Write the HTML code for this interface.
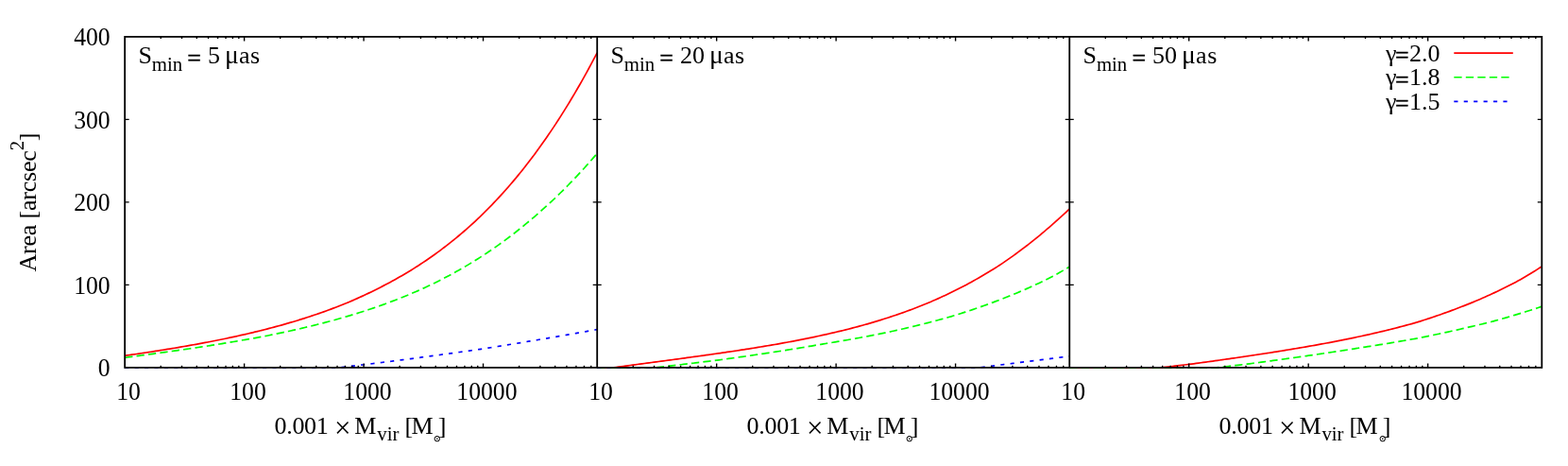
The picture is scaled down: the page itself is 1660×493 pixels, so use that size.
<!DOCTYPE html>
<html><head><meta charset="utf-8"><title>Area vs Mvir</title>
<style>
html,body{margin:0;padding:0;background:#fff;}
svg{display:block;}
text{font-family:"Liberation Serif",serif;fill:#000;}
</style></head><body>
<svg width="1660" height="493" viewBox="0 0 1660 493">
<rect width="1660" height="493" fill="#fff"/>
<g fill="none" stroke-width="1.70" stroke-linejoin="round">
<path d="M132.15,376.28 L134.66,375.92 L137.16,375.56 L139.67,375.20 L142.18,374.84 L144.68,374.47 L147.19,374.11 L149.70,373.74 L152.20,373.36 L154.71,372.99 L157.22,372.61 L159.72,372.23 L162.23,371.84 L164.73,371.45 L167.24,371.06 L169.75,370.67 L172.25,370.27 L174.76,369.87 L177.27,369.46 L179.77,369.05 L182.28,368.64 L184.79,368.23 L187.29,367.81 L189.80,367.38 L192.31,366.96 L194.81,366.53 L197.32,366.09 L199.83,365.65 L202.33,365.21 L204.84,364.76 L207.35,364.30 L209.85,363.85 L212.36,363.38 L214.87,362.92 L217.37,362.44 L219.88,361.97 L222.38,361.48 L224.89,361.00 L227.40,360.50 L229.90,360.01 L232.41,359.50 L234.92,358.99 L237.42,358.48 L239.93,357.96 L242.44,357.43 L244.94,356.90 L247.45,356.36 L249.96,355.81 L252.46,355.26 L254.97,354.70 L257.48,354.14 L259.98,353.56 L262.49,352.98 L265.00,352.40 L267.50,351.80 L270.01,351.20 L272.51,350.59 L275.02,349.98 L277.53,349.35 L280.03,348.72 L282.54,348.08 L285.05,347.44 L287.55,346.78 L290.06,346.11 L292.57,345.44 L295.07,344.75 L297.58,344.06 L300.09,343.36 L302.59,342.65 L305.10,341.93 L307.61,341.19 L310.11,340.45 L312.62,339.70 L315.13,338.94 L317.63,338.17 L320.14,337.39 L322.65,336.59 L325.15,335.79 L327.66,334.97 L330.16,334.15 L332.67,333.31 L335.18,332.46 L337.68,331.59 L340.19,330.72 L342.70,329.83 L345.20,328.93 L347.71,328.02 L350.22,327.09 L352.72,326.15 L355.23,325.20 L357.74,324.23 L360.24,323.25 L362.75,322.26 L365.26,321.25 L367.76,320.22 L370.27,319.18 L372.78,318.10 L375.28,317.01 L377.79,315.90 L380.30,314.77 L382.80,313.63 L385.31,312.47 L387.81,311.30 L390.32,310.11 L392.83,308.90 L395.33,307.67 L397.84,306.42 L400.35,305.16 L402.85,303.90 L405.36,302.62 L407.87,301.33 L410.37,300.01 L412.88,298.67 L415.39,297.31 L417.89,295.93 L420.40,294.53 L422.91,293.11 L425.41,291.67 L427.92,290.21 L430.43,288.72 L432.93,287.21 L435.44,285.67 L437.94,284.12 L440.45,282.53 L442.96,280.93 L445.46,279.30 L447.97,277.64 L450.48,275.96 L452.98,274.25 L455.49,272.52 L458.00,270.76 L460.50,268.97 L463.01,267.16 L465.52,265.31 L468.02,263.44 L470.53,261.54 L473.04,259.61 L475.54,257.66 L478.05,255.67 L480.56,253.65 L483.06,251.60 L485.57,249.51 L488.08,247.40 L490.58,245.25 L493.09,243.07 L495.59,240.86 L498.10,238.61 L500.61,236.33 L503.11,234.02 L505.62,231.67 L508.13,229.28 L510.63,226.86 L513.14,224.40 L515.65,221.91 L518.15,219.37 L520.66,216.80 L523.17,214.19 L525.67,211.54 L528.18,208.85 L530.69,206.12 L533.19,203.35 L535.70,200.54 L538.21,197.69 L540.71,194.79 L543.22,191.86 L545.73,188.88 L548.23,185.85 L550.74,182.78 L553.24,179.67 L555.75,176.51 L558.26,173.31 L560.76,170.06 L563.27,166.76 L565.78,163.41 L568.28,160.02 L570.79,156.58 L573.30,153.09 L575.80,149.55 L578.31,145.96 L580.82,142.32 L583.32,138.63 L585.83,134.89 L588.34,131.10 L590.84,127.25 L593.35,123.35 L595.86,119.40 L598.36,115.40 L600.87,111.34 L603.38,107.22 L605.88,103.05 L608.39,98.83 L610.89,94.54 L613.40,90.20 L615.91,85.81 L618.41,81.36 L620.92,76.84 L623.43,72.27 L625.93,67.65 L628.44,62.96 L630.95,58.21 L632.20,55.81" stroke="#ff0000"/>
<path d="M132.15,378.29 L134.66,377.97 L137.16,377.64 L139.67,377.31 L142.18,376.98 L144.68,376.65 L147.19,376.32 L149.70,375.98 L152.20,375.65 L154.71,375.32 L157.22,374.98 L159.72,374.64 L162.23,374.30 L164.73,373.96 L167.24,373.62 L169.75,373.28 L172.25,372.93 L174.76,372.58 L177.27,372.24 L179.77,371.88 L182.28,371.53 L184.79,371.18 L187.29,370.82 L189.80,370.46 L192.31,370.10 L194.81,369.74 L197.32,369.37 L199.83,369.00 L202.33,368.63 L204.84,368.26 L207.35,367.89 L209.85,367.51 L212.36,367.13 L214.87,366.74 L217.37,366.36 L219.88,365.97 L222.38,365.58 L224.89,365.18 L227.40,364.78 L229.90,364.38 L232.41,363.97 L234.92,363.57 L237.42,363.15 L239.93,362.74 L242.44,362.32 L244.94,361.90 L247.45,361.47 L249.96,361.04 L252.46,360.60 L254.97,360.17 L257.48,359.75 L259.98,359.34 L262.49,358.91 L265.00,358.49 L267.50,358.06 L270.01,357.62 L272.51,357.15 L275.02,356.67 L277.53,356.19 L280.03,355.70 L282.54,355.21 L285.05,354.71 L287.55,354.20 L290.06,353.70 L292.57,353.18 L295.07,352.66 L297.58,352.14 L300.09,351.60 L302.59,351.07 L305.10,350.52 L307.61,349.97 L310.11,349.42 L312.62,348.86 L315.13,348.29 L317.63,347.71 L320.14,347.13 L322.65,346.54 L325.15,345.95 L327.66,345.34 L330.16,344.73 L332.67,344.12 L335.18,343.49 L337.68,342.86 L340.19,342.22 L342.70,341.57 L345.20,340.92 L347.71,340.25 L350.22,339.58 L352.72,338.90 L355.23,338.21 L357.74,337.51 L360.24,336.80 L362.75,336.08 L365.26,335.36 L367.76,334.62 L370.27,333.88 L372.78,333.13 L375.28,332.36 L377.79,331.59 L380.30,330.80 L382.80,330.01 L385.31,329.20 L387.81,328.39 L390.32,327.56 L392.83,326.72 L395.33,325.87 L397.84,325.01 L400.35,324.14 L402.85,323.26 L405.36,322.36 L407.87,321.45 L410.37,320.53 L412.88,319.60 L415.39,318.65 L417.89,317.69 L420.40,316.72 L422.91,315.74 L425.41,314.74 L427.92,313.72 L430.43,312.70 L432.93,311.66 L435.44,310.60 L437.94,309.53 L440.45,308.45 L442.96,307.35 L445.46,306.23 L447.97,305.10 L450.48,303.96 L452.98,302.79 L455.49,301.62 L458.00,300.42 L460.50,299.21 L463.01,297.96 L465.52,296.70 L468.02,295.42 L470.53,294.12 L473.04,292.80 L475.54,291.47 L478.05,290.12 L480.56,288.75 L483.06,287.36 L485.57,285.95 L488.08,284.52 L490.58,283.07 L493.09,281.61 L495.59,280.12 L498.10,278.61 L500.61,277.08 L503.11,275.54 L505.62,273.97 L508.13,272.38 L510.63,270.76 L513.14,269.13 L515.65,267.47 L518.15,265.79 L520.66,264.09 L523.17,262.37 L525.67,260.62 L528.18,258.85 L530.69,257.06 L533.19,255.23 L535.70,253.38 L538.21,251.51 L540.71,249.61 L543.22,247.69 L545.73,245.74 L548.23,243.77 L550.74,241.77 L553.24,239.75 L555.75,237.70 L558.26,235.62 L560.76,233.53 L563.27,231.42 L565.78,229.29 L568.28,227.13 L570.79,224.95 L573.30,222.73 L575.80,220.49 L578.31,218.22 L580.82,215.93 L583.32,213.60 L585.83,211.25 L588.34,208.86 L590.84,206.45 L593.35,204.01 L595.86,201.54 L598.36,199.04 L600.87,196.51 L603.38,193.95 L605.88,191.36 L608.39,188.74 L610.89,186.09 L613.40,183.40 L615.91,180.69 L618.41,177.95 L620.92,175.18 L623.43,172.37 L625.93,169.54 L628.44,166.67 L630.95,163.77 L632.20,162.31" stroke="#00ff00" stroke-dasharray="8.33 4.17"/>
<path d="M132.15,388.90 L359.34,388.90 L361.50,388.65 L364.00,388.35 L366.51,388.06 L369.02,387.77 L371.52,387.47 L374.03,387.17 L376.54,386.87 L379.04,386.57 L381.55,386.27 L384.05,385.97 L386.56,385.66 L389.07,385.36 L391.57,385.05 L394.08,384.74 L396.59,384.43 L399.09,384.12 L401.60,383.81 L404.11,383.49 L406.61,383.18 L409.12,382.86 L411.63,382.54 L414.13,382.22 L416.64,381.90 L419.15,381.58 L421.65,381.26 L424.16,380.93 L426.67,380.61 L429.17,380.28 L431.68,379.95 L434.19,379.62 L436.69,379.29 L439.20,378.96 L441.70,378.62 L444.21,378.29 L446.72,377.95 L449.22,377.62 L451.73,377.28 L454.24,376.95 L456.74,376.61 L459.25,376.27 L461.76,375.94 L464.26,375.60 L466.77,375.26 L469.28,374.91 L471.78,374.57 L474.29,374.23 L476.80,373.88 L479.30,373.53 L481.81,373.19 L484.32,372.84 L486.82,372.49 L489.33,372.14 L491.84,371.78 L494.34,371.43 L496.85,371.08 L499.35,370.72 L501.86,370.36 L504.37,370.00 L506.87,369.65 L509.38,369.29 L511.89,368.91 L514.39,368.51 L516.90,368.12 L519.41,367.72 L521.91,367.32 L524.42,366.92 L526.93,366.51 L529.43,366.11 L531.94,365.71 L534.45,365.30 L536.95,364.89 L539.46,364.49 L541.97,364.08 L544.47,363.67 L546.98,363.26 L549.48,362.85 L551.99,362.44 L554.50,362.02 L557.00,361.61 L559.51,361.19 L562.02,360.78 L564.52,360.36 L567.03,359.94 L569.54,359.52 L572.04,359.10 L574.55,358.68 L577.06,358.26 L579.56,357.84 L582.07,357.41 L584.58,356.97 L587.08,356.54 L589.59,356.10 L592.10,355.67 L594.60,355.23 L597.11,354.79 L599.62,354.35 L602.12,353.91 L604.63,353.47 L607.13,353.03 L609.64,352.58 L612.15,352.14 L614.65,351.70 L617.16,351.25 L619.67,350.81 L622.17,350.36 L624.68,349.92 L627.19,349.47 L629.69,349.02 L632.20,348.57" stroke="#0000ff" stroke-dasharray="4.17 6.25"/>
<path d="M632.20,388.90 L649.87,388.90 L652.25,388.56 L654.76,388.21 L657.27,387.86 L659.77,387.51 L662.28,387.17 L664.78,386.83 L667.29,386.49 L669.80,386.15 L672.30,385.81 L674.81,385.48 L677.32,385.14 L679.82,384.81 L682.33,384.48 L684.84,384.15 L687.34,383.82 L689.85,383.49 L692.36,383.17 L694.86,382.84 L697.37,382.51 L699.88,382.19 L702.38,381.85 L704.89,381.51 L707.40,381.17 L709.90,380.83 L712.41,380.49 L714.92,380.16 L717.42,379.82 L719.93,379.48 L722.43,379.14 L724.94,378.80 L727.45,378.46 L729.95,378.11 L732.46,377.77 L734.97,377.43 L737.47,377.08 L739.98,376.74 L742.49,376.39 L744.99,376.04 L747.50,375.69 L750.01,375.34 L752.51,374.99 L755.02,374.63 L757.53,374.28 L760.03,373.92 L762.54,373.56 L765.05,373.19 L767.55,372.83 L770.06,372.46 L772.56,372.09 L775.07,371.72 L777.58,371.35 L780.08,370.97 L782.59,370.59 L785.10,370.21 L787.60,369.82 L790.11,369.43 L792.62,369.04 L795.12,368.64 L797.63,368.25 L800.14,367.84 L802.64,367.44 L805.15,367.03 L807.66,366.61 L810.16,366.20 L812.67,365.78 L815.18,365.35 L817.68,364.92 L820.19,364.49 L822.70,364.05 L825.20,363.60 L827.71,363.15 L830.21,362.70 L832.72,362.24 L835.23,361.78 L837.73,361.31 L840.24,360.84 L842.75,360.36 L845.25,359.87 L847.76,359.38 L850.27,358.88 L852.77,358.38 L855.28,357.87 L857.79,357.35 L860.29,356.83 L862.80,356.30 L865.31,355.76 L867.81,355.22 L870.32,354.68 L872.83,354.13 L875.33,353.58 L877.84,353.01 L880.35,352.44 L882.85,351.86 L885.36,351.27 L887.86,350.68 L890.37,350.08 L892.88,349.46 L895.38,348.84 L897.89,348.21 L900.40,347.57 L902.90,346.92 L905.41,346.27 L907.92,345.60 L910.42,344.92 L912.93,344.23 L915.44,343.53 L917.94,342.83 L920.45,342.11 L922.96,341.38 L925.46,340.64 L927.97,339.89 L930.48,339.12 L932.98,338.35 L935.49,337.56 L937.99,336.76 L940.50,335.96 L943.01,335.14 L945.51,334.31 L948.02,333.47 L950.53,332.62 L953.03,331.75 L955.54,330.87 L958.05,329.97 L960.55,329.06 L963.06,328.14 L965.57,327.20 L968.07,326.25 L970.58,325.28 L973.09,324.30 L975.59,323.30 L978.10,322.29 L980.61,321.26 L983.11,320.22 L985.62,319.16 L988.13,318.08 L990.63,316.99 L993.14,315.88 L995.64,314.75 L998.15,313.60 L1000.66,312.44 L1003.16,311.26 L1005.67,310.07 L1008.18,308.85 L1010.68,307.61 L1013.19,306.36 L1015.70,305.09 L1018.20,303.79 L1020.71,302.48 L1023.22,301.15 L1025.72,299.80 L1028.23,298.43 L1030.74,297.04 L1033.24,295.63 L1035.75,294.20 L1038.26,292.75 L1040.76,291.29 L1043.27,289.80 L1045.78,288.30 L1048.28,286.78 L1050.79,285.24 L1053.29,283.68 L1055.80,282.10 L1058.31,280.50 L1060.81,278.85 L1063.32,277.14 L1065.83,275.41 L1068.33,273.65 L1070.84,271.87 L1073.35,270.07 L1075.85,268.25 L1078.36,266.41 L1080.87,264.55 L1083.37,262.66 L1085.88,260.75 L1088.39,258.82 L1090.89,256.87 L1093.40,254.89 L1095.91,252.90 L1098.41,250.88 L1100.92,248.83 L1103.43,246.72 L1105.93,244.60 L1108.44,242.45 L1110.94,240.29 L1113.45,238.10 L1115.96,235.89 L1118.46,233.66 L1120.97,231.41 L1123.48,229.14 L1125.98,226.85 L1128.49,224.54 L1131.00,222.21 L1132.25,221.04" stroke="#ff0000"/>
<path d="M632.20,388.90 L693.77,388.90 L696.12,388.61 L698.62,388.33 L701.13,388.04 L703.64,387.75 L706.14,387.47 L708.65,387.18 L711.16,386.89 L713.66,386.60 L716.17,386.31 L718.67,386.01 L721.18,385.72 L723.69,385.42 L726.19,385.13 L728.70,384.83 L731.21,384.53 L733.71,384.23 L736.22,383.93 L738.73,383.62 L741.23,383.32 L743.74,383.01 L746.25,382.71 L748.75,382.40 L751.26,382.09 L753.77,381.78 L756.27,381.47 L758.78,381.15 L761.29,380.82 L763.79,380.48 L766.30,380.14 L768.81,379.80 L771.31,379.45 L773.82,379.10 L776.32,378.75 L778.83,378.40 L781.34,378.05 L783.84,377.70 L786.35,377.34 L788.86,376.98 L791.36,376.62 L793.87,376.26 L796.38,375.90 L798.88,375.53 L801.39,375.16 L803.90,374.79 L806.40,374.42 L808.91,374.04 L811.42,373.67 L813.92,373.29 L816.43,372.91 L818.94,372.52 L821.44,372.14 L823.95,371.75 L826.46,371.36 L828.96,370.97 L831.47,370.57 L833.97,370.17 L836.48,369.77 L838.99,369.37 L841.49,368.96 L844.00,368.55 L846.51,368.14 L849.01,367.73 L851.52,367.31 L854.03,366.89 L856.53,366.46 L859.04,366.04 L861.55,365.61 L864.05,365.18 L866.56,364.74 L869.07,364.32 L871.57,363.92 L874.08,363.52 L876.59,363.11 L879.09,362.70 L881.60,362.28 L884.10,361.86 L886.61,361.44 L889.12,361.02 L891.62,360.59 L894.13,360.16 L896.64,359.72 L899.14,359.28 L901.65,358.84 L904.16,358.39 L906.66,357.94 L909.17,357.48 L911.68,357.02 L914.18,356.55 L916.69,356.08 L919.20,355.61 L921.70,355.13 L924.21,354.65 L926.72,354.16 L929.22,353.67 L931.73,353.17 L934.24,352.67 L936.74,352.16 L939.25,351.64 L941.75,351.09 L944.26,350.54 L946.77,349.99 L949.27,349.42 L951.78,348.86 L954.29,348.29 L956.79,347.71 L959.30,347.12 L961.81,346.53 L964.31,345.94 L966.82,345.34 L969.33,344.73 L971.83,344.12 L974.34,343.50 L976.85,342.87 L979.35,342.24 L981.86,341.60 L984.37,340.95 L986.87,340.30 L989.38,339.64 L991.89,338.97 L994.39,338.30 L996.90,337.61 L999.40,336.92 L1001.91,336.23 L1004.42,335.52 L1006.92,334.81 L1009.43,334.06 L1011.94,333.28 L1014.44,332.50 L1016.95,331.70 L1019.46,330.90 L1021.96,330.09 L1024.47,329.27 L1026.98,328.44 L1029.48,327.60 L1031.99,326.75 L1034.50,325.89 L1037.00,325.02 L1039.51,324.15 L1042.02,323.26 L1044.52,322.36 L1047.03,321.45 L1049.53,320.54 L1052.04,319.61 L1054.55,318.67 L1057.05,317.72 L1059.56,316.76 L1062.07,315.78 L1064.57,314.80 L1067.08,313.80 L1069.59,312.79 L1072.09,311.77 L1074.60,310.73 L1077.11,309.69 L1079.61,308.62 L1082.12,307.55 L1084.63,306.46 L1087.13,305.36 L1089.64,304.25 L1092.15,303.12 L1094.65,301.98 L1097.16,300.82 L1099.67,299.65 L1102.17,298.46 L1104.68,297.26 L1107.18,296.04 L1109.69,294.80 L1112.20,293.49 L1114.70,292.15 L1117.21,290.80 L1119.72,289.43 L1122.22,288.04 L1124.73,286.63 L1127.24,285.20 L1129.74,283.76 L1132.25,282.31" stroke="#00ff00" stroke-dasharray="8.33 4.17"/>
<path d="M632.20,388.90 L1036.30,388.90 L1039.61,388.49 L1042.92,388.07 L1046.23,387.66 L1049.53,387.24 L1052.84,386.83 L1056.15,386.42 L1059.46,386.00 L1062.77,385.59 L1066.08,385.18 L1069.39,384.76 L1072.69,384.35 L1076.00,383.93 L1079.31,383.52 L1082.62,383.11 L1085.93,382.69 L1089.24,382.28 L1092.55,381.87 L1095.86,381.45 L1099.16,381.04 L1102.47,380.62 L1105.78,380.21 L1109.09,379.80 L1112.40,379.38 L1115.71,378.97 L1119.02,378.56 L1122.32,378.14 L1125.63,377.73 L1128.94,377.31 L1132.25,376.90" stroke="#0000ff" stroke-dasharray="4.17 6.25"/>
<path d="M1132.25,388.90 L1228.93,388.90 L1231.26,388.63 L1233.76,388.35 L1236.27,388.06 L1238.78,387.77 L1241.28,387.48 L1243.79,387.19 L1246.30,386.90 L1248.80,386.61 L1251.31,386.32 L1253.82,386.03 L1256.32,385.74 L1258.83,385.45 L1261.34,385.13 L1263.84,384.79 L1266.35,384.45 L1268.86,384.11 L1271.36,383.77 L1273.87,383.42 L1276.37,383.08 L1278.88,382.73 L1281.39,382.39 L1283.89,382.04 L1286.40,381.69 L1288.91,381.34 L1291.41,380.99 L1293.92,380.63 L1296.43,380.28 L1298.93,379.93 L1301.44,379.57 L1303.95,379.21 L1306.45,378.85 L1308.96,378.49 L1311.47,378.12 L1313.97,377.76 L1316.48,377.39 L1318.99,377.02 L1321.49,376.65 L1324.00,376.28 L1326.51,375.91 L1329.01,375.53 L1331.52,375.15 L1334.02,374.77 L1336.53,374.39 L1339.04,374.01 L1341.54,373.62 L1344.05,373.23 L1346.56,372.84 L1349.06,372.44 L1351.57,372.05 L1354.08,371.65 L1356.58,371.25 L1359.09,370.84 L1361.60,370.43 L1364.10,370.02 L1366.61,369.61 L1369.12,369.19 L1371.62,368.77 L1374.13,368.35 L1376.64,367.93 L1379.14,367.50 L1381.65,367.06 L1384.15,366.63 L1386.66,366.19 L1389.17,365.75 L1391.67,365.30 L1394.18,364.85 L1396.69,364.40 L1399.19,363.94 L1401.70,363.48 L1404.21,363.01 L1406.71,362.54 L1409.22,362.07 L1411.73,361.59 L1414.23,361.11 L1416.74,360.62 L1419.25,360.13 L1421.75,359.63 L1424.26,359.13 L1426.77,358.62 L1429.27,358.11 L1431.78,357.59 L1434.29,357.07 L1436.79,356.54 L1439.30,356.01 L1441.80,355.47 L1444.31,354.92 L1446.82,354.37 L1449.32,353.81 L1451.83,353.24 L1454.34,352.67 L1456.84,352.09 L1459.35,351.51 L1461.86,350.92 L1464.36,350.32 L1466.87,349.72 L1469.38,349.10 L1471.88,348.49 L1474.39,347.86 L1476.90,347.22 L1479.40,346.58 L1481.91,345.93 L1484.42,345.27 L1486.92,344.61 L1489.43,343.93 L1491.94,343.25 L1494.44,342.56 L1496.95,341.86 L1499.45,341.15 L1501.96,340.38 L1504.47,339.60 L1506.97,338.80 L1509.48,338.00 L1511.99,337.18 L1514.49,336.36 L1517.00,335.52 L1519.51,334.67 L1522.01,333.81 L1524.52,332.94 L1527.03,332.06 L1529.53,331.17 L1532.04,330.26 L1534.55,329.34 L1537.05,328.41 L1539.56,327.47 L1542.07,326.51 L1544.57,325.54 L1547.08,324.58 L1549.58,323.61 L1552.09,322.63 L1554.60,321.63 L1557.10,320.62 L1559.61,319.60 L1562.12,318.55 L1564.62,317.49 L1567.13,316.42 L1569.64,315.32 L1572.14,314.21 L1574.65,313.08 L1577.16,311.93 L1579.66,310.76 L1582.17,309.62 L1584.68,308.46 L1587.18,307.27 L1589.69,306.07 L1592.20,304.85 L1594.70,303.60 L1597.21,302.33 L1599.72,301.04 L1602.22,299.73 L1604.73,298.39 L1607.23,297.03 L1609.74,295.64 L1612.25,294.22 L1614.75,292.78 L1617.26,291.31 L1619.77,289.82 L1622.27,288.29 L1624.78,286.74 L1627.29,285.15 L1629.79,283.54 L1632.30,281.89" stroke="#ff0000"/>
<path d="M1132.25,388.90 L1287.98,388.90 L1290.16,388.61 L1292.67,388.32 L1295.17,388.04 L1297.68,387.76 L1300.19,387.48 L1302.69,387.20 L1305.20,386.92 L1307.71,386.63 L1310.21,386.35 L1312.72,386.07 L1315.23,385.78 L1317.73,385.47 L1320.24,385.14 L1322.75,384.81 L1325.25,384.48 L1327.76,384.14 L1330.26,383.81 L1332.77,383.48 L1335.28,383.14 L1337.78,382.81 L1340.29,382.47 L1342.80,382.13 L1345.30,381.79 L1347.81,381.45 L1350.32,381.11 L1352.82,380.77 L1355.33,380.43 L1357.84,380.08 L1360.34,379.74 L1362.85,379.39 L1365.36,379.04 L1367.86,378.69 L1370.37,378.34 L1372.88,377.99 L1375.38,377.64 L1377.89,377.28 L1380.40,376.93 L1382.90,376.57 L1385.41,376.21 L1387.91,375.85 L1390.42,375.49 L1392.93,375.13 L1395.43,374.76 L1397.94,374.39 L1400.45,374.02 L1402.95,373.65 L1405.46,373.28 L1407.97,372.91 L1410.47,372.53 L1412.98,372.15 L1415.49,371.77 L1417.99,371.39 L1420.50,371.01 L1423.01,370.62 L1425.51,370.23 L1428.02,369.84 L1430.53,369.45 L1433.03,369.06 L1435.54,368.66 L1438.04,368.26 L1440.55,367.86 L1443.06,367.48 L1445.56,367.09 L1448.07,366.70 L1450.58,366.31 L1453.08,365.91 L1455.59,365.52 L1458.10,365.12 L1460.60,364.71 L1463.11,364.31 L1465.62,363.90 L1468.12,363.49 L1470.63,363.07 L1473.14,362.66 L1475.64,362.24 L1478.15,361.81 L1480.66,361.39 L1483.16,360.96 L1485.67,360.53 L1488.18,360.09 L1490.68,359.65 L1493.19,359.21 L1495.69,358.76 L1498.20,358.31 L1500.71,357.85 L1503.21,357.35 L1505.72,356.85 L1508.23,356.34 L1510.73,355.83 L1513.24,355.31 L1515.75,354.80 L1518.25,354.27 L1520.76,353.75 L1523.27,353.22 L1525.77,352.68 L1528.28,352.14 L1530.79,351.60 L1533.29,351.05 L1535.80,350.50 L1538.31,349.94 L1540.81,349.38 L1543.32,348.81 L1545.83,348.24 L1548.33,347.67 L1550.84,347.08 L1553.34,346.50 L1555.85,345.90 L1558.36,345.31 L1560.86,344.71 L1563.37,344.14 L1565.88,343.55 L1568.38,342.96 L1570.89,342.36 L1573.40,341.76 L1575.90,341.15 L1578.41,340.54 L1580.92,339.89 L1583.42,339.19 L1585.93,338.48 L1588.44,337.76 L1590.94,337.04 L1593.45,336.31 L1595.96,335.58 L1598.46,334.84 L1600.97,334.09 L1603.48,333.35 L1605.98,332.60 L1608.49,331.84 L1610.99,331.08 L1613.50,330.31 L1616.01,329.53 L1618.51,328.74 L1621.02,327.94 L1623.53,327.14 L1626.03,326.32 L1628.54,325.50 L1631.05,324.67 L1632.30,324.26" stroke="#00ff00" stroke-dasharray="8.33 4.17"/>
</g>
<path d="M170.22,388.90v-2.20M170.22,38.90v2.20M192.49,388.90v-2.20M192.49,38.90v2.20M208.29,388.90v-2.20M208.29,38.90v2.20M220.54,388.90v-2.20M220.54,38.90v2.20M230.55,388.90v-2.20M230.55,38.90v2.20M239.02,388.90v-2.20M239.02,38.90v2.20M246.35,388.90v-2.20M246.35,38.90v2.20M252.82,388.90v-2.20M252.82,38.90v2.20M258.61,388.90v-4.50M258.61,38.90v4.50M296.68,388.90v-2.20M296.68,38.90v2.20M318.95,388.90v-2.20M318.95,38.90v2.20M334.75,388.90v-2.20M334.75,38.90v2.20M347.00,388.90v-2.20M347.00,38.90v2.20M357.01,388.90v-2.20M357.01,38.90v2.20M365.48,388.90v-2.20M365.48,38.90v2.20M372.81,388.90v-2.20M372.81,38.90v2.20M379.28,388.90v-2.20M379.28,38.90v2.20M385.07,388.90v-4.50M385.07,38.90v4.50M423.14,388.90v-2.20M423.14,38.90v2.20M445.40,388.90v-2.20M445.40,38.90v2.20M461.20,388.90v-2.20M461.20,38.90v2.20M473.46,388.90v-2.20M473.46,38.90v2.20M483.47,388.90v-2.20M483.47,38.90v2.20M491.94,388.90v-2.20M491.94,38.90v2.20M499.27,388.90v-2.20M499.27,38.90v2.20M505.74,388.90v-2.20M505.74,38.90v2.20M511.53,388.90v-4.50M511.53,38.90v4.50M549.60,388.90v-2.20M549.60,38.90v2.20M571.86,388.90v-2.20M571.86,38.90v2.20M587.66,388.90v-2.20M587.66,38.90v2.20M599.92,388.90v-2.20M599.92,38.90v2.20M609.93,388.90v-2.20M609.93,38.90v2.20M618.40,388.90v-2.20M618.40,38.90v2.20M625.73,388.90v-2.20M625.73,38.90v2.20M670.27,388.90v-2.20M670.27,38.90v2.20M692.54,388.90v-2.20M692.54,38.90v2.20M708.34,388.90v-2.20M708.34,38.90v2.20M720.59,388.90v-2.20M720.59,38.90v2.20M730.60,388.90v-2.20M730.60,38.90v2.20M739.07,388.90v-2.20M739.07,38.90v2.20M746.40,388.90v-2.20M746.40,38.90v2.20M752.87,388.90v-2.20M752.87,38.90v2.20M758.66,388.90v-4.50M758.66,38.90v4.50M796.73,388.90v-2.20M796.73,38.90v2.20M819.00,388.90v-2.20M819.00,38.90v2.20M834.80,388.90v-2.20M834.80,38.90v2.20M847.05,388.90v-2.20M847.05,38.90v2.20M857.06,388.90v-2.20M857.06,38.90v2.20M865.53,388.90v-2.20M865.53,38.90v2.20M872.86,388.90v-2.20M872.86,38.90v2.20M879.33,388.90v-2.20M879.33,38.90v2.20M885.12,388.90v-4.50M885.12,38.90v4.50M923.19,388.90v-2.20M923.19,38.90v2.20M945.45,388.90v-2.20M945.45,38.90v2.20M961.25,388.90v-2.20M961.25,38.90v2.20M973.51,388.90v-2.20M973.51,38.90v2.20M983.52,388.90v-2.20M983.52,38.90v2.20M991.99,388.90v-2.20M991.99,38.90v2.20M999.32,388.90v-2.20M999.32,38.90v2.20M1005.79,388.90v-2.20M1005.79,38.90v2.20M1011.58,388.90v-4.50M1011.58,38.90v4.50M1049.65,388.90v-2.20M1049.65,38.90v2.20M1071.91,388.90v-2.20M1071.91,38.90v2.20M1087.71,388.90v-2.20M1087.71,38.90v2.20M1099.97,388.90v-2.20M1099.97,38.90v2.20M1109.98,388.90v-2.20M1109.98,38.90v2.20M1118.45,388.90v-2.20M1118.45,38.90v2.20M1125.78,388.90v-2.20M1125.78,38.90v2.20M1170.32,388.90v-2.20M1170.32,38.90v2.20M1192.59,388.90v-2.20M1192.59,38.90v2.20M1208.39,388.90v-2.20M1208.39,38.90v2.20M1220.64,388.90v-2.20M1220.64,38.90v2.20M1230.65,388.90v-2.20M1230.65,38.90v2.20M1239.12,388.90v-2.20M1239.12,38.90v2.20M1246.45,388.90v-2.20M1246.45,38.90v2.20M1252.92,388.90v-2.20M1252.92,38.90v2.20M1258.71,388.90v-4.50M1258.71,38.90v4.50M1296.78,388.90v-2.20M1296.78,38.90v2.20M1319.05,388.90v-2.20M1319.05,38.90v2.20M1334.85,388.90v-2.20M1334.85,38.90v2.20M1347.10,388.90v-2.20M1347.10,38.90v2.20M1357.11,388.90v-2.20M1357.11,38.90v2.20M1365.58,388.90v-2.20M1365.58,38.90v2.20M1372.91,388.90v-2.20M1372.91,38.90v2.20M1379.38,388.90v-2.20M1379.38,38.90v2.20M1385.17,388.90v-4.50M1385.17,38.90v4.50M1423.24,388.90v-2.20M1423.24,38.90v2.20M1445.50,388.90v-2.20M1445.50,38.90v2.20M1461.30,388.90v-2.20M1461.30,38.90v2.20M1473.56,388.90v-2.20M1473.56,38.90v2.20M1483.57,388.90v-2.20M1483.57,38.90v2.20M1492.04,388.90v-2.20M1492.04,38.90v2.20M1499.37,388.90v-2.20M1499.37,38.90v2.20M1505.84,388.90v-2.20M1505.84,38.90v2.20M1511.63,388.90v-4.50M1511.63,38.90v4.50M1549.70,388.90v-2.20M1549.70,38.90v2.20M1571.96,388.90v-2.20M1571.96,38.90v2.20M1587.76,388.90v-2.20M1587.76,38.90v2.20M1600.02,388.90v-2.20M1600.02,38.90v2.20M1610.03,388.90v-2.20M1610.03,38.90v2.20M1618.50,388.90v-2.20M1618.50,38.90v2.20M1625.83,388.90v-2.20M1625.83,38.90v2.20M132.15,301.40h4.50M627.70,301.40h9.00M1127.75,301.40h9.00M1632.30,301.40h-4.50M132.15,213.90h4.50M627.70,213.90h9.00M1127.75,213.90h9.00M1632.30,213.90h-4.50M132.15,126.40h4.50M627.70,126.40h9.00M1127.75,126.40h9.00M1632.30,126.40h-4.50" fill="none" stroke="#000" stroke-width="1.40"/>
<g fill="none" stroke="#000" stroke-width="1.8">
<rect x="132.15" y="38.90" width="1500.15" height="350.00"/>
<path d="M632.20,38.90V388.90M1132.25,38.90V388.90"/>
</g>
<g font-size="26.00">
<text transform="translate(116.70,398.10) scale(1,1.065)" text-anchor="end" font-size="25.70">0</text>
<text transform="translate(116.70,310.60) scale(1,1.065)" text-anchor="end" font-size="25.70">100</text>
<text transform="translate(116.70,223.10) scale(1,1.065)" text-anchor="end" font-size="25.70">200</text>
<text transform="translate(116.70,135.60) scale(1,1.065)" text-anchor="end" font-size="25.70">300</text>
<text transform="translate(116.70,48.10) scale(1,1.065)" text-anchor="end" font-size="25.70">400</text>
<text transform="translate(136.05,423.40) scale(1,1.065)" text-anchor="middle" font-size="25.70">10</text>
<text transform="translate(262.51,423.40) scale(1,1.065)" text-anchor="middle" font-size="25.70">100</text>
<text transform="translate(388.97,423.40) scale(1,1.065)" text-anchor="middle" font-size="25.70">1000</text>
<text transform="translate(515.43,423.40) scale(1,1.065)" text-anchor="middle" font-size="25.70">10000</text>
<text><tspan x="290.50" y="459.00" letter-spacing="-0.3">0.001</tspan> <tspan x="354.00" y="462.90" font-size="31.00">×</tspan> <tspan x="375.30" y="459.00">M</tspan><tspan x="399.30" y="466.40" font-size="20.80">vir</tspan> <tspan x="428.50" y="459.00">[</tspan><tspan x="435.50" y="459.00">M</tspan><tspan x="459.40" y="466.90" font-size="8.50" font-weight="bold">⊙</tspan><tspan x="463.70" y="459.00">]</tspan></text>
<text><tspan x="146.50" y="67.20">S</tspan><tspan x="160.80" y="74.80" font-size="20.80">min</tspan> <tspan x="198.30" y="69.50" stroke="#000" stroke-width="0.4">=</tspan> <tspan x="219.90" y="67.20">5</tspan> <tspan x="238.00" y="67.20" font-size="27.50">μ</tspan><tspan x="253.00" y="67.20" letter-spacing="0.5">as</tspan></text>
<text transform="translate(636.10,423.40) scale(1,1.065)" text-anchor="middle" font-size="25.70">10</text>
<text transform="translate(762.56,423.40) scale(1,1.065)" text-anchor="middle" font-size="25.70">100</text>
<text transform="translate(889.02,423.40) scale(1,1.065)" text-anchor="middle" font-size="25.70">1000</text>
<text transform="translate(1015.48,423.40) scale(1,1.065)" text-anchor="middle" font-size="25.70">10000</text>
<text><tspan x="790.55" y="459.00" letter-spacing="-0.3">0.001</tspan> <tspan x="854.05" y="462.90" font-size="31.00">×</tspan> <tspan x="875.35" y="459.00">M</tspan><tspan x="899.35" y="466.40" font-size="20.80">vir</tspan> <tspan x="928.55" y="459.00">[</tspan><tspan x="935.55" y="459.00">M</tspan><tspan x="959.45" y="466.90" font-size="8.50" font-weight="bold">⊙</tspan><tspan x="963.75" y="459.00">]</tspan></text>
<text><tspan x="646.55" y="67.20">S</tspan><tspan x="660.85" y="74.80" font-size="20.80">min</tspan> <tspan x="698.35" y="69.50" stroke="#000" stroke-width="0.4">=</tspan> <tspan x="719.95" y="67.20">20</tspan> <tspan x="751.05" y="67.20" font-size="27.50">μ</tspan><tspan x="766.05" y="67.20" letter-spacing="0.5">as</tspan></text>
<text transform="translate(1136.15,423.40) scale(1,1.065)" text-anchor="middle" font-size="25.70">10</text>
<text transform="translate(1262.61,423.40) scale(1,1.065)" text-anchor="middle" font-size="25.70">100</text>
<text transform="translate(1389.07,423.40) scale(1,1.065)" text-anchor="middle" font-size="25.70">1000</text>
<text transform="translate(1515.53,423.40) scale(1,1.065)" text-anchor="middle" font-size="25.70">10000</text>
<text><tspan x="1290.60" y="459.00" letter-spacing="-0.3">0.001</tspan> <tspan x="1354.10" y="462.90" font-size="31.00">×</tspan> <tspan x="1375.40" y="459.00">M</tspan><tspan x="1399.40" y="466.40" font-size="20.80">vir</tspan> <tspan x="1428.60" y="459.00">[</tspan><tspan x="1435.60" y="459.00">M</tspan><tspan x="1459.50" y="466.90" font-size="8.50" font-weight="bold">⊙</tspan><tspan x="1463.80" y="459.00">]</tspan></text>
<text><tspan x="1146.60" y="67.20">S</tspan><tspan x="1160.90" y="74.80" font-size="20.80">min</tspan> <tspan x="1198.40" y="69.50" stroke="#000" stroke-width="0.4">=</tspan> <tspan x="1220.00" y="67.20">50</tspan> <tspan x="1251.10" y="67.20" font-size="27.50">μ</tspan><tspan x="1266.10" y="67.20" letter-spacing="0.5">as</tspan></text>
<text transform="translate(37.8,214.1) rotate(-90)" text-anchor="middle" letter-spacing="-0.2">Area [arcsec<tspan font-size="20.80" dy="-12.8">2</tspan><tspan dy="12.8">]</tspan></text>
<text><tspan x="1466.90" y="64.75">γ</tspan><tspan x="1476.90" y="67.05" stroke="#000" stroke-width="0.4">=</tspan><tspan x="1491.90" y="64.75">2.0</tspan></text>
<text><tspan x="1466.90" y="90.30">γ</tspan><tspan x="1476.90" y="92.60" stroke="#000" stroke-width="0.4">=</tspan><tspan x="1491.90" y="90.30">1.8</tspan></text>
<text><tspan x="1466.90" y="115.85">γ</tspan><tspan x="1476.90" y="118.15" stroke="#000" stroke-width="0.4">=</tspan><tspan x="1491.90" y="115.85">1.5</tspan></text>
</g>
<g fill="none" stroke-width="1.70">
<path d="M1539.3,56.10H1601.8" stroke="#ff0000"/>
<path d="M1539.3,81.75H1601.8" stroke="#00ff00" stroke-dasharray="8.33 4.17"/>
<path d="M1539.3,107.40H1601.8" stroke="#0000ff" stroke-dasharray="4.17 6.25"/>
</g>
</svg>
</body></html>
